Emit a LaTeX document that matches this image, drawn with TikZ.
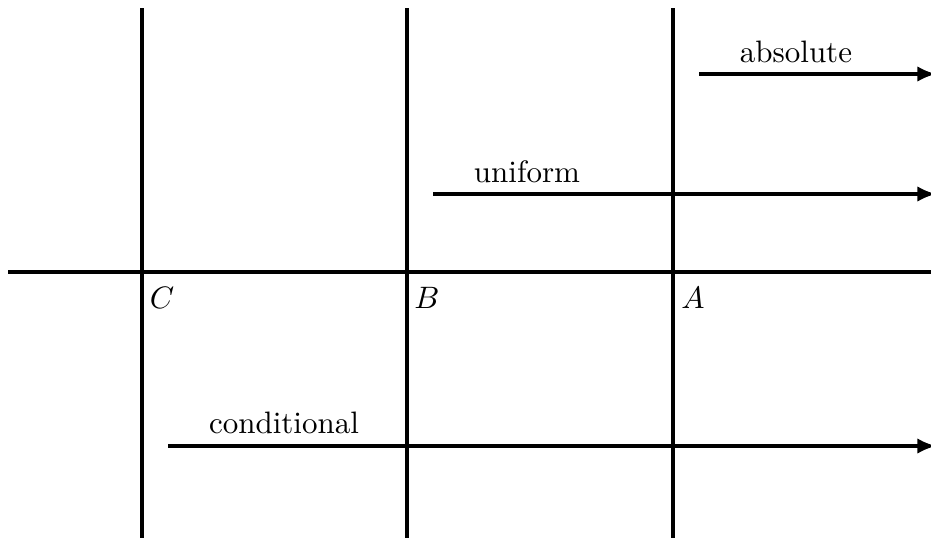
\documentclass[tikz,border=0pt]{standalone}
\usetikzlibrary{arrows.meta}
\begin{document}
\begin{tikzpicture}[x=0.3226pt,y=-0.3226pt,
  axis/.style={line width=1pt},
  flow/.style={line width=1pt,-{Latex[length=6pt,width=5pt]}},
  lab/.style={font=\fontsize{10}{12}\selectfont},
  pt/.style={font=\fontsize{10}{12}\selectfont}]
\useasboundingbox (0,0) rectangle (931,537);
\clip (0,0) rectangle (931,537);
% vertical lines
\coordinate (Ct) at (142,8); \coordinate (Cb) at (142,540);
\coordinate (Bt) at (407,8); \coordinate (Bb) at (407,540);
\coordinate (At) at (673,8); \coordinate (Ab) at (673,540);
\coordinate (Hl) at (8,272); \coordinate (Hr) at (935,272);
\draw[axis] (Ct) -- (Cb);
\draw[axis] (Bt) -- (Bb);
\draw[axis] (At) -- (Ab);
\draw[axis] (Hl) -- (Hr);
% arrows
\coordinate (a1) at (699,74); \coordinate (a2) at (936,74);
\coordinate (u1) at (433,194); \coordinate (u2) at (936,194);
\coordinate (c1) at (168,446); \coordinate (c2) at (936,446);
\draw[flow] (a1) -- (a2);
\draw[flow] (u1) -- (u2);
\draw[flow] (c1) -- (c2);
\node[lab] (labA) at (796,52) {absolute};
\node[lab] (labU) at (527,172) {uniform};
\node[lab] (labC) at (284,423) {conditional};
\node[pt] (C) at (162,298) {$C$};
\node[pt] (B) at (427,298) {$B$};
\node[pt] (A) at (693,298) {$A$};
\end{tikzpicture}
\end{document}
